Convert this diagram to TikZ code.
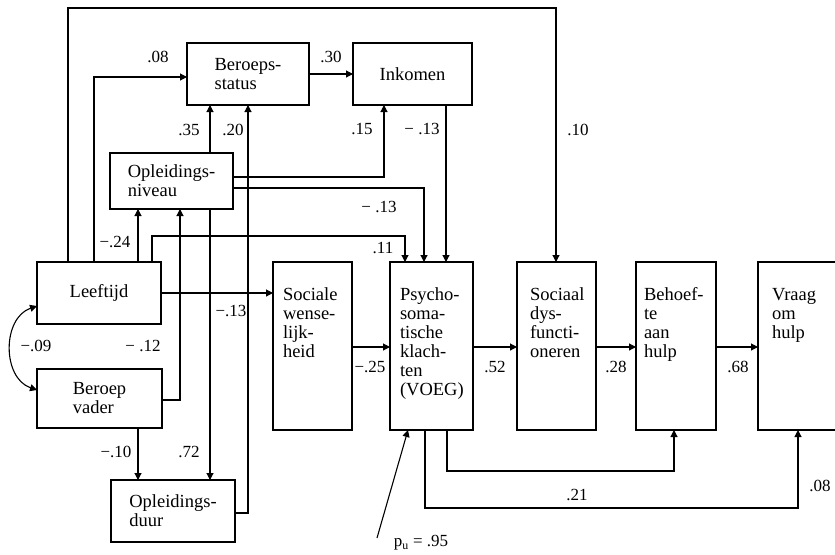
\documentclass[tikz,border=0pt]{standalone}
\usepackage{fontspec}
\setmainfont{Liberation Serif}
\usetikzlibrary{arrows.meta}
\newcommand\boxfnt{\fontsize{18.5}{19}\selectfont}
\newcommand\labfnt{\fontsize{17}{19}\selectfont}
\begin{document}
\begin{tikzpicture}[x=1pt,y=-1pt,
  box/.style={draw, line width=1.1pt, inner sep=0pt, outer sep=0pt, anchor=north west, align=left, font=\boxfnt},
  txt/.style={inner sep=0pt, outer sep=0pt, anchor=base west, align=left, font=\boxfnt},
  lab/.style={inner sep=0pt, font=\labfnt},
  arr/.style={line width=1.1pt, -{Triangle[length=7pt,width=7pt]}},
  darr/.style={line width=1.1pt, {Triangle[length=7pt,width=7pt]}-{Triangle[length=7pt,width=7pt]}}]
\useasboundingbox (0,0) rectangle (835,554);
% boxes
\node[box, minimum width=122pt, minimum height=62pt] (bs) at (187,43) {Beroeps-\\status};
\node[box, minimum width=119pt, minimum height=62pt] (ink) at (353,43) {Inkomen};
\node[box, minimum width=123pt, minimum height=56pt] (opn) at (110,153) {Opleidings-\\niveau};
\node[box, minimum width=124pt, minimum height=62pt] (lee) at (37,262) {Leeftijd};
\node[box, minimum width=125pt, minimum height=59pt] (bv) at (37,369) {Beroep\\vader};
\node[box, minimum width=124pt, minimum height=62pt] (opd) at (111,480) {Opleidings-\\duur};
\node[box, minimum width=79pt, minimum height=168pt] (soc) at (273,262) {};
\node[box, minimum width=83pt, minimum height=168pt] (psy) at (390,262) {};
\node[box, minimum width=79pt, minimum height=168pt] (sd) at (517,262) {};
\node[box, minimum width=80pt, minimum height=168pt] (beh) at (636,262) {};
\node[box, minimum width=84pt, minimum height=168pt] (vr) at (758,262) {};
% (base anchor = baseline of the last line; first baseline at y=300, 19pt apart)
\node[txt] (socT) at (283,357) {Sociale\\wense-\\lijk-\\heid};
\node[txt] (psyT) at (400,395) {Psycho-\\soma-\\tische\\klach-\\ten\\(VOEG)};
\node[txt] (sdT) at (530,357) {Sociaal\\dys-\\functi-\\oneren};
\node[txt] (behT) at (644,357) {Behoef-\\te\\aan\\hulp};
\node[txt] (vrT) at (772,338) {Vraag\\om\\hulp};
% waypoints
\coordinate (w10a) at (68,8);
\coordinate (w10b) at (556,8);
\coordinate (w08) at (94,77);
\coordinate (w24) at (138,0);
\coordinate (w11a) at (152,236);
\coordinate (w11b) at (405,236);
\coordinate (w12) at (180,400);
\coordinate (w72) at (210,0);
\coordinate (w20) at (248,513);
\coordinate (w15) at (384,177);
\coordinate (w13) at (424,188);
\coordinate (w13i) at (446,0);
\coordinate (wm) at (0,347);
\coordinate (w21a) at (447,471);
\coordinate (w21b) at (674,471);
\coordinate (w08a) at (425,508);
\coordinate (w08b) at (798,508);
\coordinate (wpu) at (377,538);
\coordinate (wca) at (0,306);
\coordinate (wcb) at (0,390);
% connectors
\draw[arr] (lee.north -| w10a) |- (w10b) -- (sd.north -| w10b);
\draw[arr] (lee.north -| w08) |- (bs.west |- w08);
\draw[arr] (lee.north -| w24) -- (opn.south -| w24);
\draw[arr] (lee.north -| w11a) |- (w11b) -- (psy.north -| w11b);
\draw[arr] (lee.east) -- (soc.west |- lee.east);
\draw[arr] (bv.east |- w12) -| (opn.south -| w12);
\draw[arr] (bv.south -| w24) -- (opd.north -| w24);
\draw[arr] (opn.south -| w72) -- (opd.north -| w72);
\draw[arr] (opd.east |- w20) -| (bs.south -| w20);
\draw[arr] (opn.north -| w72) -- (bs.south -| w72);
\draw[arr] (bs.east) -- (ink.west);
\draw[arr] (opn.east |- w15) -| (ink.south -| w15);
\draw[arr] (opn.east |- w13) -| (psy.north -| w13);
\draw[arr] (ink.south -| w13i) -- (psy.north -| w13i);
\draw[arr] (soc.east |- wm) -- (psy.west |- wm);
\draw[arr] (psy.east |- wm) -- (sd.west |- wm);
\draw[arr] (sd.east |- wm) -- (beh.west |- wm);
\draw[arr] (beh.east |- wm) -- (vr.west |- wm);
\draw[arr] (psy.south -| w21a) |- (w21b) -- (beh.south -| w21b);
\draw[arr] (psy.south -| w08a) |- (w08b) -- (vr.south -| w08b);
\draw[arr] (wpu) -- ([xshift=18pt]psy.south west);
\draw[darr] (lee.west |- wca) .. controls (2,318) and (2,378) .. (bv.west |- wcb);
% labels
\node[lab] (l08) at (158,57) {.08};
\node[lab] (l30) at (331,57) {.30};
\node[lab] (l10) at (578,130) {.10};
\node[lab] (l35) at (189,130) {.35};
\node[lab] (l20) at (233,130) {.20};
\node[lab] (l15) at (362,129) {.15};
\node[lab] (l13i) at (422,129) {− .13};
\node[lab] (l13o) at (379,207) {− .13};
\node[lab] (l11) at (383,248) {.11};
\node[lab] (l24) at (115,242) {−.24};
\node[lab] (l13l) at (231,311) {−.13};
\node[lab] (l09) at (36,346) {−.09};
\node[lab] (l12) at (143,346) {− .12};
\node[lab] (l10b) at (116,452) {−.10};
\node[lab] (l72) at (189,452) {.72};
\node[lab] (l25) at (370,367) {−.25};
\node[lab] (l52) at (495,367) {.52};
\node[lab] (l28) at (616,367) {.28};
\node[lab] (l68) at (738,367) {.68};
\node[lab] (l21) at (577,495) {.21};
\node[lab] (l08b) at (820,486) {.08};
\node[lab] (lpu) at (421,543) {p\textsubscript{u} = .95};
\end{tikzpicture}
\end{document}
